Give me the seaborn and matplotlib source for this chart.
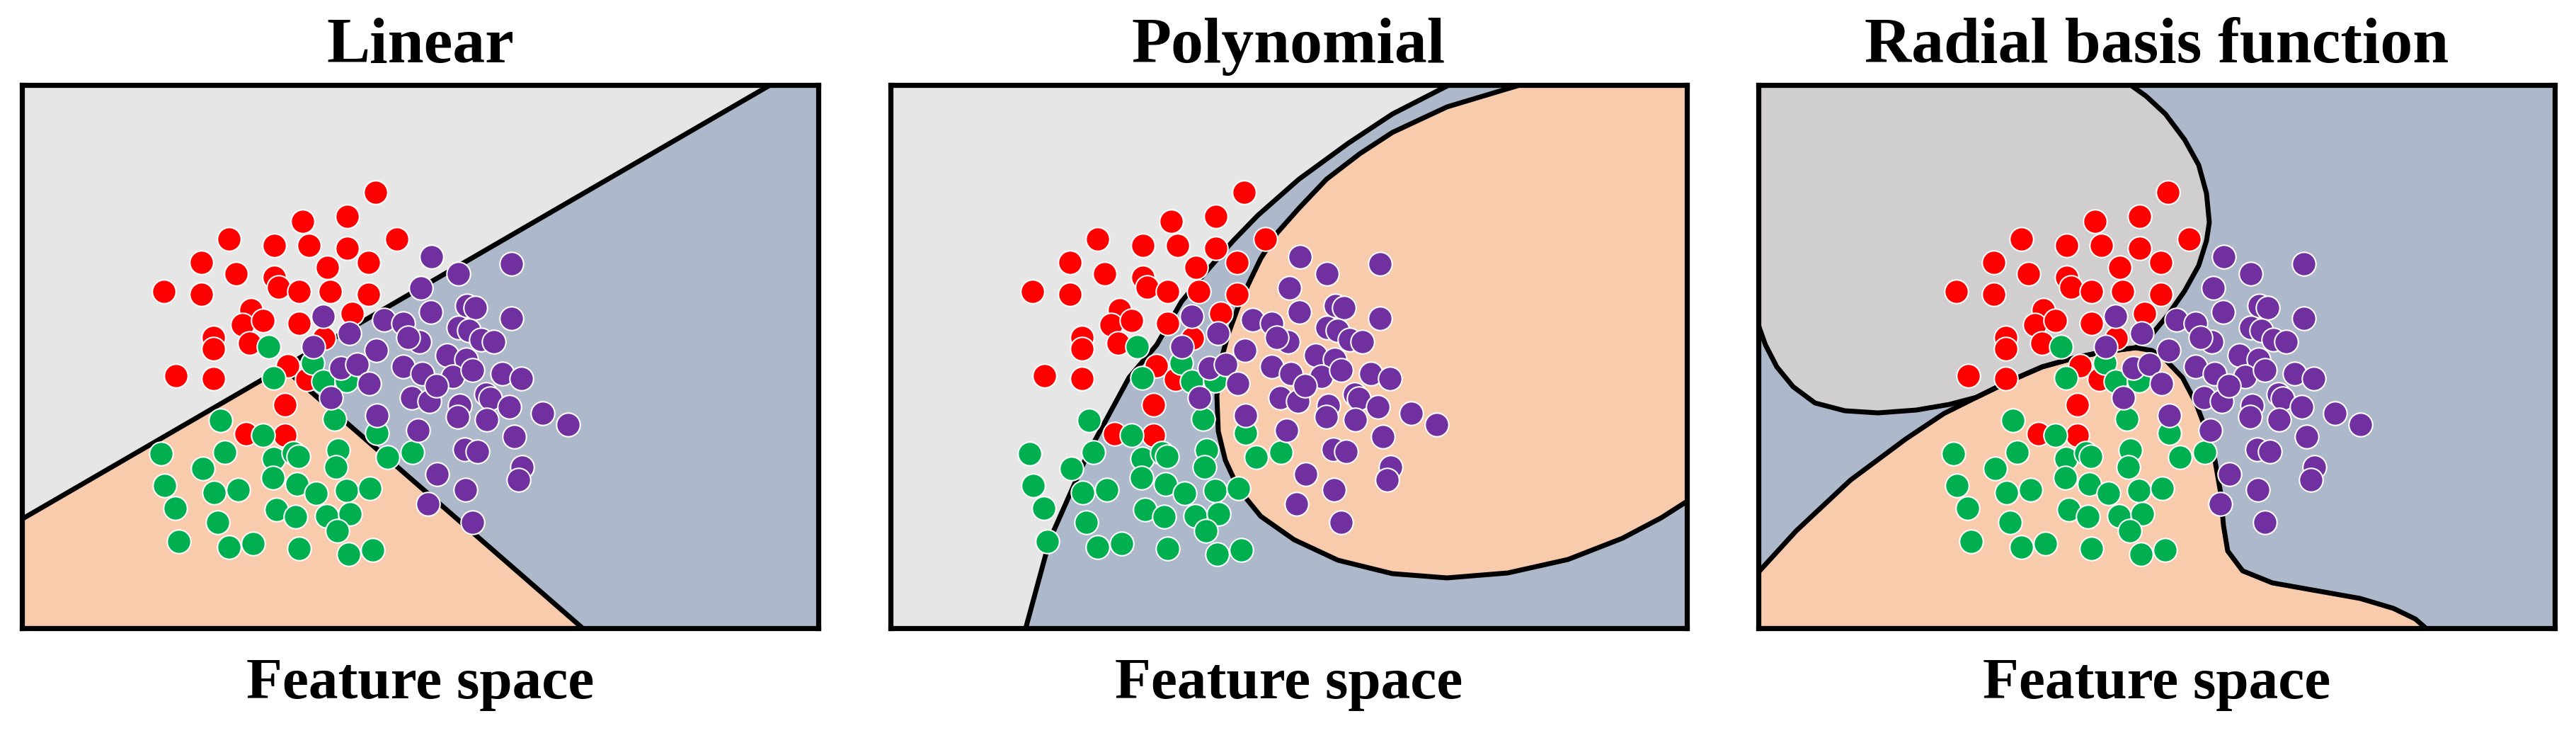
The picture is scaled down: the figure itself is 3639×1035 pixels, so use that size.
import numpy as np
import pandas as pd
import matplotlib
matplotlib.use("Agg")
import matplotlib.pyplot as plt
import seaborn as sns


#--------------------sample points (same feature space in every panel)-----------------------------------------------------------

red_x = [531, 491, 428, 324, 561, 388, 437, 491, 285, 463, 521, 334, 388, 394, 423, 467, 521, 232,
         285, 355, 343, 372, 423, 498, 302, 302, 353, 458, 249, 302, 407, 403, 348, 403, 434]
red_y = [272, 306, 313, 338, 338, 347, 347, 351, 371, 378, 371, 387, 392, 406, 412, 412, 416, 412,
         416, 438, 459, 453, 457, 443, 477, 493, 485, 478, 531, 535, 517, 572, 613, 615, 536]

green_x = [380, 442, 387, 457, 490, 312, 372, 473, 533, 228, 318, 387, 415, 422, 478, 475, 548, 583,
           287, 233, 303, 337, 386, 420, 447, 490, 523, 248, 308, 391, 418, 462, 495, 477, 253, 324,
           358, 423, 493, 527]
green_y = [490, 513, 534, 539, 538, 594, 615, 592, 612, 641, 639, 648, 640, 645, 636, 660, 646, 639,
           662, 686, 696, 692, 675, 684, 697, 693, 690, 718, 738, 720, 730, 729, 726, 750, 765, 773,
           768, 775, 783, 777]

purple_x = [610, 648, 723, 595, 660, 672, 609, 723, 457, 543, 570, 648, 663, 494, 593, 577, 680, 698,
            443, 532, 632, 659, 482, 505, 570, 597, 640, 668, 710, 737, 522, 468, 582, 607, 617, 650,
            687, 693, 720, 767, 803, 533, 647, 688, 591, 727, 657, 675, 738, 733, 618, 658, 605, 668]
purple_y = [363, 387, 373, 407, 432, 435, 441, 450, 447, 452, 457, 463, 467, 471, 483, 477, 480, 483,
            490, 495, 502, 508, 520, 515, 518, 528, 532, 523, 528, 535, 542, 562, 562, 567, 545, 573,
            557, 563, 575, 584, 600, 587, 589, 593, 608, 617, 635, 638, 660, 678, 670, 692, 712, 738]

#--------------------decision boundaries---------------------------------------------------------------------------------------

# Linear
lin_a_x = [31, 1089]
lin_a_y = [733, 119.5]
lin_b_x = [400, 823]
lin_b_y = [519, 887]

# Polynomial
poly_left_x = [821, 740, 678, 608, 550, 515, 480, 442, 407, 368, 310, 256, 222]
poly_left_y = [119.5, 161, 202, 253, 304, 340, 380, 426, 487, 533, 640, 762, 887]
poly_right_x = [922, 817, 740, 694, 647, 608, 577, 554, 539, 523, 508, 498, 492, 494, 504, 523,
                554, 601, 663, 740, 817, 903, 988, 1065, 1120, 1156]
poly_right_y = [119.5, 151, 187, 217, 253, 294, 329, 365, 396, 431, 472, 508, 559, 609, 650, 691,
                729, 762, 791, 810, 816, 809, 790, 760, 731, 708]

# Radial basis function
rbf_grey_low_x = [31, 41, 57, 80, 111, 153, 200, 254, 301, 339]
rbf_grey_low_y = [459, 487, 518, 546, 569, 580, 583, 579, 571, 561]
rbf_shared_x = [339, 386, 432, 479, 517, 564]
rbf_shared_y = [561, 538, 518, 505, 497, 491]
rbf_grey_right_x = [564, 587, 610, 633, 653, 664, 668, 664, 653, 633, 606, 579, 556]
rbf_grey_right_y = [491, 472, 444, 411, 375, 340, 314, 273, 233, 197, 161, 136, 119.5]
rbf_orange_left_x = [31, 84, 161, 239, 293, 339]
rbf_orange_left_y = [808, 750, 678, 620, 584, 561]
rbf_orange_right_x = [564, 587, 606, 630, 649, 664, 676, 684, 688, 694, 715, 757, 819, 881, 928,
                      959, 974]
rbf_orange_right_y = [491, 495, 508, 533, 569, 609, 650, 696, 742, 778, 806, 823, 834, 845, 859,
                      874, 887]

titles = ["Linear", "Polynomial", "Radial basis function"]
xlabel = "Feature space"

#--------------------style-----------------------------------------------------------------------------------------------------

XMIN, XMAX, YMIN, YMAX = 31, 1156, 119.5, 887
W, H = 3639, 1035
panel_left = [31, 1258, 2484]
point_shift = [0, 0, 79]

light_grey = "#E7E6E6"
rbf_grey = "#D0CECE"
blue_grey = "#ADB9CA"
orange = "#F8CBAD"
palette = {"a": "#FF0000", "b": "#00B050", "c": "#7030A0"}

sns.set_style("white")
plt.rcParams["font.family"] = ["Liberation Serif", "DejaVu Serif"]
plt.rcParams["text.color"] = "black"

pts = pd.DataFrame({
    "x": red_x + green_x + purple_x,
    "y": red_y + green_y + purple_y,
    "cls": ["a"] * len(red_x) + ["b"] * len(green_x) + ["c"] * len(purple_x),
})

fig = plt.figure(figsize=(W / 100, H / 100), dpi=100)


def seg(ax, xs, ys):
    ax.plot(xs, ys, color="black", lw=5.0, solid_capstyle="round", solid_joinstyle="round", zorder=2)


for i in range(3):
    ax = fig.add_axes([panel_left[i] / W, 1 - YMAX / H, (XMAX - XMIN) / W, (YMAX - YMIN) / H])
    ax.set_facecolor(blue_grey)

    if i == 0:
        ax.fill(lin_a_x + [XMIN], lin_a_y + [YMIN], color=light_grey, lw=0, zorder=1)
        ax.fill([lin_a_x[0]] + lin_b_x + [XMIN], [lin_a_y[0]] + lin_b_y + [YMAX],
                color=orange, lw=0, zorder=1)
        seg(ax, lin_a_x, lin_a_y)
        seg(ax, lin_b_x, lin_b_y)
    elif i == 1:
        ax.fill(poly_left_x + [XMIN, XMIN], poly_left_y + [YMAX, YMIN], color=light_grey, lw=0, zorder=1)
        ax.fill(poly_right_x + [XMAX], poly_right_y + [YMIN], color=orange, lw=0, zorder=1)
        seg(ax, poly_left_x, poly_left_y)
        seg(ax, poly_right_x, poly_right_y)
    else:
        gx = rbf_grey_low_x + rbf_shared_x[1:] + rbf_grey_right_x[1:]
        gy = rbf_grey_low_y + rbf_shared_y[1:] + rbf_grey_right_y[1:]
        ox = rbf_orange_left_x + rbf_shared_x[1:] + rbf_orange_right_x[1:]
        oy = rbf_orange_left_y + rbf_shared_y[1:] + rbf_orange_right_y[1:]
        ax.fill(ox + [XMIN], oy + [YMAX], color=orange, lw=0, zorder=1)
        ax.fill(gx + [XMIN], gy + [YMIN], color=rbf_grey, lw=0, zorder=1)
        seg(ax, gx, gy)
        seg(ax, ox, oy)

    d = pts.copy()
    d["x"] = d["x"] + point_shift[i]
    sns.scatterplot(data=d, x="x", y="y", hue="cls", palette=palette, s=580,
                    edgecolor="white", linewidth=1.5, legend=False, ax=ax, zorder=3)

    ax.set_xlim(XMIN, XMAX)
    ax.set_ylim(YMAX, YMIN)
    ax.set_xticks([])
    ax.set_yticks([])
    ax.set_xlabel("")
    ax.set_ylabel("")
    for sp in ax.spines.values():
        sp.set_visible(True)
        sp.set_color("black")
        sp.set_linewidth(5.2)
        sp.set_zorder(5)

    cx = (panel_left[i] + (XMAX - XMIN) / 2) / W
    fig.text(cx, 1 - 88 / H, titles[i], ha="center", va="baseline",
             fontsize=66, fontweight="bold", color="black")
    fig.text(cx, 1 - 986 / H, xlabel, ha="center", va="baseline",
             fontsize=60, fontweight="bold", color="black")

fig.savefig("out.png", dpi=100)
